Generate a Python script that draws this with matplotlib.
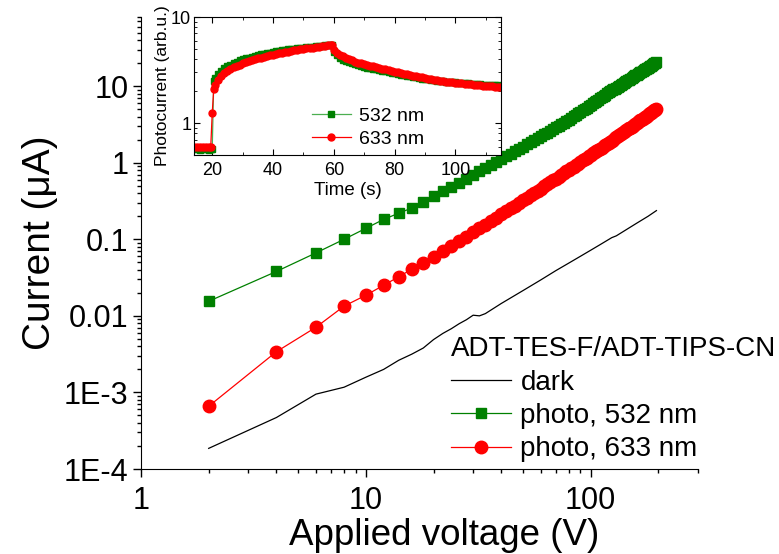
import matplotlib
matplotlib.use("Agg")
import matplotlib.pyplot as plt
from matplotlib.ticker import LogLocator, NullFormatter, MultipleLocator

plt.rcParams['font.family'] = ['Liberation Sans', 'DejaVu Sans']

# main plot: I-V curves, voltage in V, current in uA
volts = [2, 4, 6, 8, 10, 12, 14, 16, 18, 20, 22, 24, 26, 28, 30, 32, 34, 36, 38, 40,
         42, 44, 46, 48, 50, 52, 54, 56, 58, 60, 62, 64, 66, 68, 70, 72, 74, 76, 78, 80,
         82, 84, 86, 88, 90, 92, 94, 96, 98, 100, 102, 104, 106, 108, 110, 112, 114, 116, 118, 120,
         122, 124, 126, 128, 130, 132, 134, 136, 138, 140, 142, 144, 146, 148, 150, 152, 154, 156, 158, 160,
         162, 164, 166, 168, 170, 172, 174, 176, 178, 180, 182, 184, 186, 188, 190, 192, 194, 196]

photo_532 = [0.0155, 0.038, 0.0664, 0.100, 0.139, 0.182, 0.219, 0.256, 0.308, 0.363,
             0.421, 0.484, 0.551, 0.621, 0.693, 0.771, 0.851, 0.935, 1.03, 1.11,
             1.21, 1.31, 1.41, 1.51, 1.62, 1.73, 1.85, 1.97, 2.09, 2.21,
             2.34, 2.48, 2.62, 2.75, 2.89, 3.03, 3.18, 3.34, 3.50, 3.66,
             3.84, 4.02, 4.21, 4.41, 4.60, 4.82, 5.02, 5.24, 5.47, 5.70,
             5.94, 6.17, 6.41, 6.65, 6.90, 7.18, 7.45, 7.71, 8.02, 8.28,
             8.53, 8.79, 9.06, 9.31, 9.59, 9.89, 10.1, 10.4, 10.7, 11.0,
             11.3, 11.6, 11.9, 12.2, 12.5, 12.8, 13.1, 13.4, 13.8, 14.1,
             14.4, 14.7, 15.1, 15.4, 15.7, 16.1, 16.5, 16.8, 17.1, 17.5,
             17.9, 18.3, 18.6, 19.0, 19.4, 19.8, 20.2, 20.6]

photo_633 = [0.00066, 0.0034, 0.0071, 0.0134, 0.0186, 0.0251, 0.0324, 0.0407, 0.049, 0.0589,
             0.0698, 0.0818, 0.0949, 0.1086, 0.1233, 0.139, 0.1556, 0.1734, 0.1923, 0.2113,
             0.2317, 0.2529, 0.2761, 0.2992, 0.3236, 0.349, 0.375, 0.403, 0.430, 0.460,
             0.490, 0.521, 0.556, 0.586, 0.622, 0.656, 0.693, 0.731, 0.769, 0.809,
             0.851, 0.891, 0.931, 0.975, 1.02, 1.07, 1.11, 1.16, 1.21, 1.26,
             1.32, 1.37, 1.42, 1.47, 1.53, 1.58, 1.64, 1.70, 1.77, 1.82,
             1.88, 1.95, 2.01, 2.08, 2.15, 2.22, 2.29, 2.36, 2.43, 2.50,
             2.57, 2.65, 2.72, 2.80, 2.88, 2.97, 3.04, 3.13, 3.22, 3.30,
             3.37, 3.47, 3.56, 3.64, 3.73, 3.82, 3.93, 4.01, 4.10, 4.21,
             4.31, 4.42, 4.50, 4.60, 4.72, 4.81, 4.93, 5.02]

dark_volts = [2, 4, 6, 8, 10, 12, 14, 16, 18, 20, 22, 24, 26, 28, 30, 32, 34, 40, 50, 60,
              70, 80, 90, 100, 110, 124, 130, 140, 160, 180, 196]
dark = [1.86e-4, 4.7e-4, 9.5e-4, 1.17e-3, 1.58e-3, 2.0e-3, 2.63e-3, 3.16e-3, 3.8e-3, 4.9e-3,
        5.9e-3, 6.8e-3, 7.9e-3, 8.9e-3, 1.02e-2, 1.0e-2, 1.07e-2, 1.45e-2, 2.14e-2, 2.95e-2,
        3.9e-2, 4.9e-2, 6.0e-2, 7.2e-2, 8.5e-2, 0.105, 0.111, 0.127, 0.162, 0.20, 0.237]

y_ticks = [1e-4, 1e-3, 0.01, 0.1, 1, 10]
y_labels = ['1E-4', '1E-3', '0.01', '0.1', '1', '10']
x_ticks = [1, 10, 100]
x_labels = ['1', '10', '100']

# inset: photocurrent transients
time_s = [14, 15, 16, 17, 18, 19, 19.5, 20, 20.5, 21,
          22, 23, 24, 25, 26, 27, 28, 29, 30, 31, 32, 33, 34, 35, 36, 37, 38, 39, 40,
          41, 42, 43, 44, 45, 46, 47, 48, 49, 50, 51, 52, 53, 54, 55, 56, 57, 58, 59, 59.5,
          60, 61, 62, 63, 64, 65, 66, 67, 68, 69, 70, 71, 72, 73, 74, 75, 76, 77, 78, 79,
          80, 81, 82, 83, 84, 85, 86, 87, 88, 89, 90, 91, 92, 93, 94, 95, 96, 97, 98, 99,
          100, 101, 102, 103, 104, 105, 106, 107, 108, 109, 110, 111, 112, 113, 114, 115]

pc_532 = [0.57, 0.57, 0.56, 0.57, 0.57, 0.56, 0.57, 0.57, 2.5, 2.65,
          2.9, 3.1, 3.3, 3.45, 3.55, 3.7, 3.8, 3.9, 4.0, 4.08, 4.15, 4.22, 4.3, 4.38, 4.45, 4.5, 4.55, 4.62, 4.7,
          4.75, 4.8, 4.85, 4.9, 4.95, 5.0, 5.02, 5.05, 5.1, 5.15, 5.18, 5.2, 5.25, 5.3, 5.32, 5.35, 5.4, 5.45, 5.48, 5.5,
          4.7, 4.35, 4.1, 3.97, 3.85, 3.75, 3.65, 3.57, 3.5, 3.44, 3.38, 3.34, 3.3, 3.25, 3.2, 3.15, 3.11, 3.07, 3.03, 2.99,
          2.95, 2.91, 2.87, 2.83, 2.79, 2.75, 2.72, 2.69, 2.66, 2.63, 2.6, 2.58, 2.56, 2.53, 2.51, 2.49, 2.48, 2.46, 2.45, 2.43,
          2.42, 2.41, 2.40, 2.38, 2.37, 2.36, 2.35, 2.34, 2.32, 2.31, 2.3, 2.29, 2.28, 2.28, 2.27, 2.26]

pc_633 = [0.60, 0.59, 0.60, 0.60, 0.59, 0.60, 0.59, 1.25, 2.1, 2.3,
          2.55, 2.75, 2.95, 3.1, 3.22, 3.35, 3.45, 3.55, 3.65, 3.75, 3.85, 3.92, 4.0, 4.08, 4.15, 4.22, 4.3, 4.35, 4.4,
          4.48, 4.55, 4.6, 4.65, 4.72, 4.8, 4.85, 4.9, 4.95, 5.0, 5.05, 5.1, 5.15, 5.2, 5.25, 5.3, 5.35, 5.4, 5.43, 5.45,
          4.9, 4.6, 4.4, 4.25, 4.1, 4.0, 3.9, 3.8, 3.72, 3.66, 3.6, 3.54, 3.48, 3.42, 3.36, 3.3, 3.25, 3.2, 3.15, 3.1,
          3.05, 3.01, 2.97, 2.92, 2.88, 2.84, 2.8, 2.76, 2.72, 2.69, 2.65, 2.62, 2.59, 2.56, 2.53, 2.5, 2.48, 2.46, 2.44, 2.42,
          2.4, 2.38, 2.37, 2.35, 2.34, 2.32, 2.31, 2.29, 2.28, 2.26, 2.25, 2.24, 2.22, 2.21, 2.19, 2.18]

GREEN = '#008000'
RED = '#ff0000'

fig = plt.figure(figsize=(7.79, 5.54), dpi=100)

# ---- main axes ----
ax = fig.add_axes([141 / 779, 1 - 469 / 554, 557 / 779, 452 / 554])
ax.plot(dark_volts, dark, color='black', lw=0.9, label='dark')
ax.plot(volts, photo_532, color=GREEN, lw=0.9, marker='s', ms=7, mec=GREEN, mfc=GREEN,
        label='photo, 532 nm')
ax.plot(volts, photo_633, color=RED, lw=0.9, marker='o', ms=9, mec=RED, mfc=RED,
        label='photo, 633 nm')
ax.set_xscale('log')
ax.set_yscale('log')
ax.set_xlim(1, 300)
ax.set_ylim(1e-4, 80)
ax.spines['top'].set_visible(False)
ax.spines['right'].set_visible(False)
ax.set_xticks(x_ticks)
ax.set_xticklabels(x_labels)
ax.set_yticks(y_ticks)
ax.set_yticklabels(y_labels)
ax.xaxis.set_minor_locator(LogLocator(base=10, subs=range(2, 10), numticks=20))
ax.yaxis.set_minor_locator(LogLocator(base=10, subs=range(2, 10), numticks=20))
ax.xaxis.set_minor_formatter(NullFormatter())
ax.yaxis.set_minor_formatter(NullFormatter())
ax.tick_params(which='major', direction='out', length=6, width=1, labelsize=22, pad=3)
ax.tick_params(axis='x', which='major', pad=6)
ax.tick_params(which='minor', direction='out', length=3, width=1)
ax.set_xlabel('Applied voltage (V)', fontsize=26.5)
ax.xaxis.set_label_coords((444 - 141) / 557, -0.108)
ax.set_ylabel('Current (\u03bcA)', fontsize=28, labelpad=4)

leg = ax.legend(loc='upper left', bbox_to_anchor=(451 / 779, 1 - 336 / 554),
                bbox_transform=fig.transFigure, frameon=False, fontsize=20,
                title='ADT-TES-F/ADT-TIPS-CN', title_fontsize=20, alignment='left',
                handlelength=2.15, handletextpad=0.35, labelspacing=0.27, borderpad=0,
                borderaxespad=0)

# ---- inset ----
ins = fig.add_axes([194 / 779, 1 - 155 / 554, 307 / 779, 138 / 554])
ins.plot(time_s, pc_532, color='#4caf50', lw=0.9, marker='s', ms=4.5, mec=GREEN, mfc=GREEN,
         label='532 nm')
ins.plot(time_s, pc_633, color=RED, lw=0.9, marker='o', ms=5, mec=RED, mfc=RED,
         label='633 nm')
ins.set_yscale('log')
ins.set_xlim(14, 115)
ins.set_ylim(0.5, 10)
ins.xaxis.set_major_locator(MultipleLocator(20))
ins.xaxis.set_minor_locator(MultipleLocator(10))
ins.set_yticks([1, 10])
ins.set_yticklabels(['1', '10'])
ins.yaxis.set_minor_locator(LogLocator(base=10, subs=range(2, 10), numticks=20))
ins.yaxis.set_minor_formatter(NullFormatter())
ins.tick_params(which='both', direction='in', top=True, right=True, labelsize=13, pad=2)
ins.tick_params(axis='x', which='both', pad=5)
ins.tick_params(which='major', length=4)
ins.tick_params(which='minor', length=2)
ins.set_xlabel('Time (s)', fontsize=13.5, labelpad=2)
ins.set_ylabel('Photocurrent (arb.u.)', fontsize=12.5, labelpad=1)
ins.legend(loc='upper left', bbox_to_anchor=(312 / 779, 1 - 107 / 554),
           bbox_transform=fig.transFigure, frameon=False, fontsize=14,
           handlelength=2.0, handletextpad=0.4, labelspacing=0.3, borderpad=0,
           borderaxespad=0)

fig.savefig('out.png', dpi=100)
